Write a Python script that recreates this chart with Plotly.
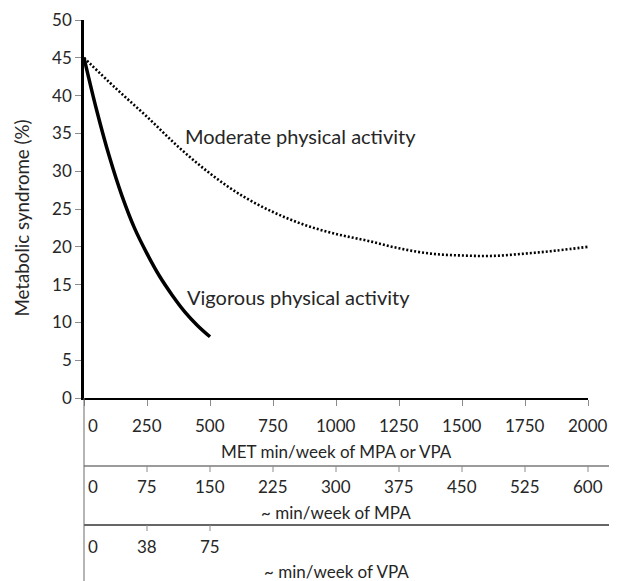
import plotly.graph_objects as go

# ---- data ----
met_ticks = [0, 250, 500, 750, 1000, 1250, 1500, 1750, 2000]
met_labels = ["0", "250", "500", "750", "1000", "1250", "1500", "1750", "2000"]
mpa_labels = ["0", "75", "150", "225", "300", "375", "450", "525", "600"]
vpa_ticks = [0, 250, 500]
vpa_labels = ["0", "38", "75"]

mod_x = [0, 125, 250, 375, 500, 625, 750, 875, 1000, 1125, 1250, 1375, 1500, 1625, 1750, 1875, 2000]
mod_y = [45.0, 41.0, 37.2, 33.2, 29.7, 26.8, 24.6, 22.9, 21.7, 20.8, 19.8, 19.1, 18.85, 18.8, 19.1, 19.5, 20.0]

vig_x = [0, 50, 100, 150, 200, 250, 300, 350, 400, 450, 500]
vig_y = [45.0, 38.1, 32.0, 26.8, 22.5, 19.1, 16.1, 13.6, 11.4, 9.6, 8.1]

y_ticks = [0, 5, 10, 15, 20, 25, 30, 35, 40, 45, 50]

# ---- layout constants (pixels, in the 617x581 window) ----
OFF = 8                      # default page body margin
W, H = 617, 581
FW, FH = W - OFF, H - OFF    # figure size
AX_L, AX_R, AX_T, AX_B = 84, 588, 20, 398   # plot area in window pixels
ML, MR, MT, MB = AX_L - OFF, W - AX_R, AX_T - OFF, H - AX_B
PH = AX_B - AX_T
PW = AX_R - AX_L
FONT = "Lato"
TXT = "#262626"
GRAY = "#8c8c8c"

def py(pix):
    """window pixel y (from top) -> paper y"""
    return (AX_B - pix) / PH

def px(pix):
    return (pix - AX_L) / PW

fig = go.Figure()
fig.add_trace(go.Scatter(x=mod_x, y=mod_y, mode="lines",
                         line=dict(color="black", width=2.6, dash="2px,2px", shape="spline"), hoverinfo="skip"))
fig.add_trace(go.Scatter(x=vig_x, y=vig_y, mode="lines",
                         line=dict(color="black", width=3.5, shape="spline"), hoverinfo="skip"))

annotations = [
    dict(x=400, y=34.6, xref="x", yref="y", text="Moderate physical activity", showarrow=False,
         xanchor="left", yanchor="middle", font=dict(family=FONT, size=20, color=TXT), xshift=-2),
    dict(x=400, y=13.4, xref="x", yref="y", text="Vigorous physical activity", showarrow=False,
         xanchor="left", yanchor="middle", font=dict(family=FONT, size=20, color=TXT), xshift=0),
    dict(x=px(21.5), y=py(218), xref="paper", yref="paper", text="Metabolic syndrome (%)", showarrow=False,
         textangle=-90, xanchor="center", yanchor="middle", font=dict(family=FONT, size=18.7, color=TXT)),
]
shapes = []

rows = [
    (met_ticks, met_labels, 426, "MET min/week of MPA or VPA", 451, None, None),
    (met_ticks, mpa_labels, 486, "~ min/week of MPA", 512, 466, "#7a7a7a"),
    (vpa_ticks, vpa_labels, 546, "~ min/week of VPA", 571, 525, "#333333"),
]
for ticks, labels, ly, title, ty, line_y, lcol in rows:
    for t, lab in zip(ticks, labels):
        annotations.append(dict(x=t, y=py(ly), xref="x", yref="paper", text=lab, showarrow=False,
                                xanchor="center", yanchor="middle", xshift=(9 if t == 0 else 0),
                                font=dict(family=FONT, size=17, color=TXT)))
    annotations.append(dict(x=1000, y=py(ty), xref="x", yref="paper", text=title, showarrow=False,
                            xanchor="center", yanchor="middle", font=dict(family=FONT, size=17, color=TXT)))
    if line_y is not None:
        shapes.append(dict(type="line", xref="paper", yref="paper", x0=0, x1=px(W), y0=py(line_y), y1=py(line_y),
                           line=dict(color=lcol, width=1.3)))
        for t in ticks:
            if t == 0:
                continue
            xp = t / 2000
            shapes.append(dict(type="line", xref="paper", yref="paper", x0=xp, x1=xp, y0=py(line_y), y1=py(line_y + 6),
                               line=dict(color=GRAY, width=1)))

# vertical gray line below plot
shapes.append(dict(type="line", xref="paper", yref="paper", x0=0, x1=0, y0=0, y1=py(H), line=dict(color="#6a6a6a", width=1)))

fig.update_layout(
    width=FW, height=FH,
    margin=dict(l=ML, r=MR, t=MT, b=MB, autoexpand=False),
    plot_bgcolor="white", paper_bgcolor="white",
    showlegend=False,
    font=dict(family=FONT, size=17, color=TXT),
    annotations=annotations,
    shapes=shapes,
    xaxis=dict(range=[0, 2000], showgrid=False, zeroline=False, showline=True, linecolor="black", linewidth=2,
               tickmode="array", tickvals=met_ticks, ticks="outside", ticklen=6, tickcolor=GRAY, tickwidth=1,
               showticklabels=False, fixedrange=True, automargin=False),
    yaxis=dict(range=[0, 50], showgrid=False, zeroline=False, showline=True, linecolor="black", linewidth=2.5,
               tickmode="array", tickvals=y_ticks, ticks="outside", ticklen=6, tickcolor=GRAY, tickwidth=1,
               tickfont=dict(family=FONT, size=17, color=TXT), fixedrange=True, automargin=False),
)

fig.write_html("out.html")
